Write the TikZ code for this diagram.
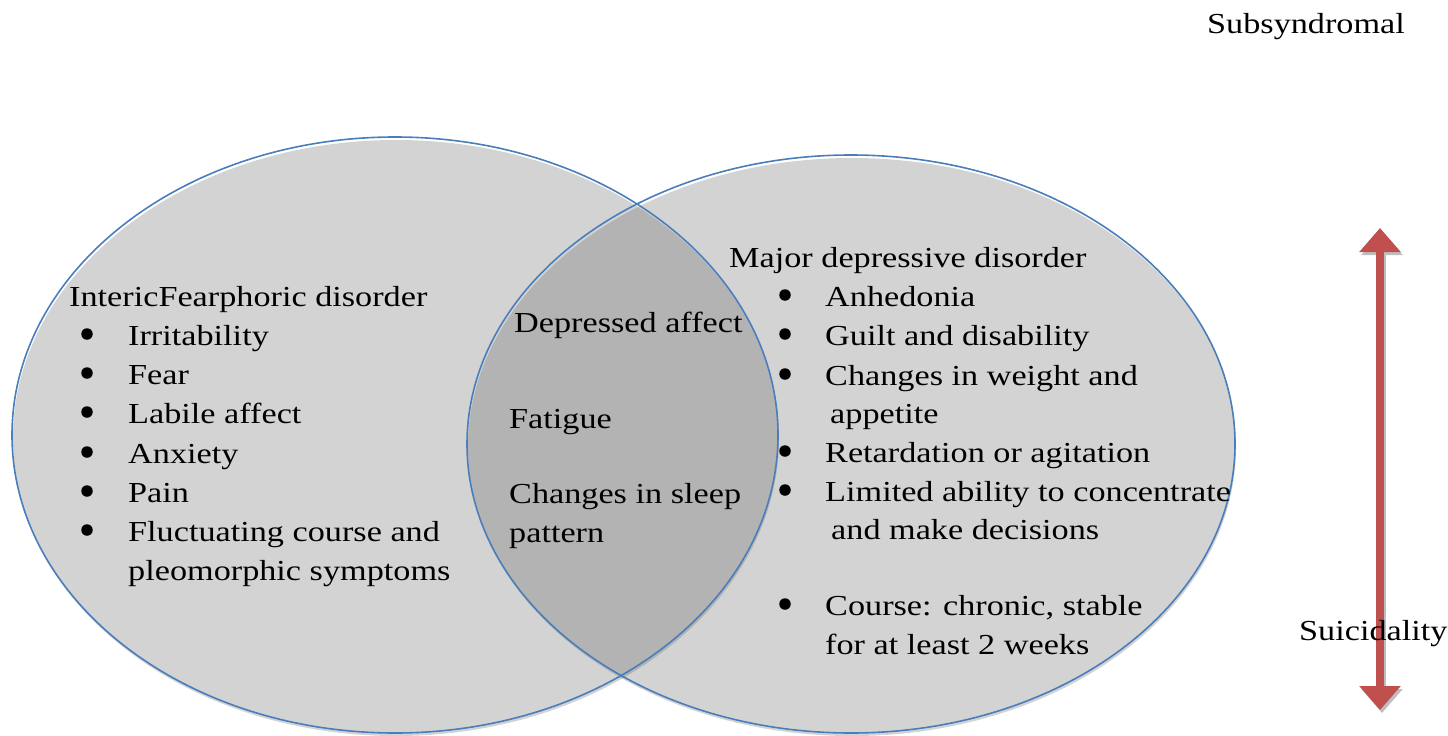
\documentclass[tikz,border=0pt]{standalone}
\usepackage{fontspec}
\setmainfont[FakeStretch=1.18]{Liberation Serif}
\usetikzlibrary{arrows.meta}
\definecolor{efill}{RGB}{211,211,211}
\definecolor{lensfill}{RGB}{179,179,179}
\definecolor{eline}{RGB}{74,126,187}
\definecolor{arrowred}{RGB}{192,80,77}
\definecolor{shadowgray}{RGB}{190,190,190}
\tikzset{
  txt/.style={anchor=base west, inner sep=0pt, font=\fontsize{29}{33}\selectfont},
  bul/.style={circle, fill=black, inner sep=0pt, minimum size=11.5pt},
  outline/.style={draw=eline, line width=1.6pt},
  redarrow/.style={draw=arrowred, line width=8pt, {Triangle[width=40pt,length=24pt]}-{Triangle[width=40pt,length=24pt]}},
  shadowarrow/.style={draw=shadowgray, line width=8pt, {Triangle[width=40pt,length=24pt]}-{Triangle[width=40pt,length=24pt]}}
}
\begin{document}
\begin{tikzpicture}[x=1pt,y=-1pt]
\useasboundingbox (0,0) rectangle (1448,736);
% fills (slightly offset, as in the reference)
\fill[efill] (396,438) ellipse [x radius=383, y radius=298];
\fill[efill] (852,447) ellipse [x radius=384, y radius=289];
\begin{scope}
  \clip (396,438) ellipse [x radius=383, y radius=298];
  \fill[lensfill] (852,447) ellipse [x radius=384, y radius=289];
\end{scope}
% outlines
\draw[outline] (395,435) ellipse [x radius=383, y radius=298];
\draw[outline] (851,444) ellipse [x radius=384, y radius=289];
% arrow
\coordinate (atop) at (1380,228);
\coordinate (abot) at (1380,710);
\coordinate (stop) at (1382,231);
\coordinate (sbot) at (1382,713);
\draw[shadowarrow] (stop) -- (sbot);
\draw[redarrow] (atop) -- (abot);
% top / side labels
\node[txt] (subs) at (1207,33) {Subsyndromal};
\node[txt] (suic) at (1299,640) {Suicidality};
% left set
\node[txt] (lt) at (69,306) {IntericFearphoric disorder};
\foreach \y/\t [count=\i] in {345/Irritability,384/Fear,423/Labile affect,463/Anxiety,502/Pain,541/Fluctuating course and}{
  \node[bul] (lb\i) at (87,\y-11) {};
  \node[txt] (li\i) at (128,\y) {\t};
}
\node[txt] (li7) at (128,580) {pleomorphic symptoms};
% middle
\node[txt] (m1) at (514,332) {Depressed affect};
\node[txt] (m2) at (509,428) {Fatigue};
\node[txt] (m3) at (509,503) {Changes in sleep};
\node[txt] (m4) at (509,542) {pattern};
% right set
\node[txt] (rt) at (729,267) {Major depressive disorder};
\foreach \y/\t [count=\i] in {306/Anhedonia,345/Guilt and disability,385/Changes in weight and,462/Retardation or agitation,501/Limited ability to concentrate,615/{Course: chronic, stable}}{
  \node[bul] (rb\i) at (785,\y-11) {};
  \node[txt] (ri\i) at (825,\y) {\t};
}
\node[txt] (ra1) at (830,423) {appetite};
\node[txt] (ra2) at (831,539) {and make decisions};
\node[txt] (ra3) at (825,654) {for at least 2 weeks};
\end{tikzpicture}
\end{document}
